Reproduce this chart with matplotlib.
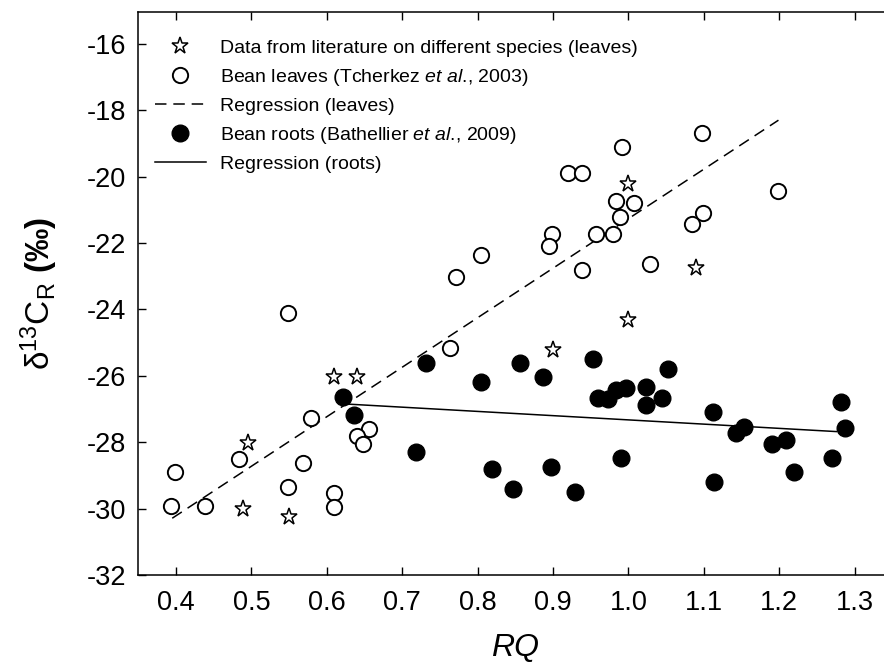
import numpy as np
import matplotlib
matplotlib.use("Agg")
import matplotlib.pyplot as plt

plt.rcParams['font.family'] = ['Liberation Sans', 'DejaVu Sans']
plt.rcParams['mathtext.fontset'] = 'custom'
plt.rcParams['mathtext.rm'] = 'Liberation Sans'
plt.rcParams['mathtext.it'] = 'Liberation Sans:italic'
plt.rcParams['mathtext.bf'] = 'Liberation Sans:bold'
plt.rcParams['axes.unicode_minus'] = False

# === Datos ===
# literatura (hojas, distintas especies)
lit_rq = [0.495, 0.489, 0.550, 0.610, 0.640, 0.900, 1.000, 1.000, 1.090]
lit_d13c = [-28.01, -30.02, -30.24, -26.03, -26.03, -25.22, -24.32, -20.23, -22.76]

# hojas de frijol (Tcherkez et al., 2003)
hojas_rq = [1.098, 0.991, 0.920, 0.938, 0.984, 1.008, 0.989, 0.899, 0.895, 0.957,
            0.979, 1.099, 1.084, 1.198, 0.938, 1.029, 0.805, 0.771, 0.548, 0.763,
            0.579, 0.656, 0.640, 0.648, 0.568, 0.483, 0.399, 0.548, 0.609, 0.609,
            0.393, 0.438]
hojas_d13c = [-18.70, -19.10, -19.88, -19.88, -20.73, -20.80, -21.21, -21.73, -22.08, -21.73,
              -21.73, -21.11, -21.44, -20.43, -22.81, -22.64, -22.36, -23.02, -24.10, -25.17,
              -27.28, -27.60, -27.81, -28.06, -28.64, -28.52, -28.91, -29.36, -29.52, -29.96,
              -29.91, -29.91]

# raices de frijol (Bathellier et al., 2009)
raices_rq = [0.622, 0.636, 0.732, 0.804, 0.856, 0.887, 0.953, 1.052, 0.960, 0.973,
             0.984, 0.997, 1.023, 1.044, 1.024, 1.112, 1.143, 1.153, 1.191, 1.209,
             1.282, 1.287, 1.270, 1.219, 1.113, 0.990, 0.898, 0.929, 0.847, 0.718,
             0.819]
raices_d13c = [-26.63, -27.18, -25.62, -26.20, -25.62, -26.03, -25.49, -25.80, -26.68, -26.70,
               -26.43, -26.38, -26.33, -26.66, -26.88, -27.10, -27.73, -27.55, -28.05, -27.93,
               -26.78, -27.56, -28.47, -28.89, -29.19, -28.47, -28.76, -29.49, -29.42, -28.29,
               -28.82]

# rectas de regresion (extremos)
reg_hojas_x = [0.395, 1.199]
reg_hojas_y = [-30.29, -18.30]
reg_raices_x = [0.626, 1.276]
reg_raices_y = [-26.85, -27.68]

x_ticks = [0.4, 0.5, 0.6, 0.7, 0.8, 0.9, 1.0, 1.1, 1.2, 1.3]
y_ticks = [-32, -30, -28, -26, -24, -22, -20, -18, -16]

guiones = (0, (7.5, 4.5))

# === Grafico ===
fig = plt.figure(figsize=(8.84, 6.67), dpi=100)
ax = fig.add_axes([138.3 / 884, 92 / 667, (892.3 - 138.3) / 884, (575 - 12.3) / 667])

ax.plot(reg_hojas_x, reg_hojas_y, linestyle=guiones, color='black', lw=1.1, zorder=2)
ax.plot(reg_raices_x, reg_raices_y, linestyle='-', color='black', lw=1.1, zorder=2)

ax.plot(lit_rq, lit_d13c, linestyle='none', marker='*', ms=12.5, mfc='white',
        mec='black', mew=1.1, zorder=3)
ax.plot(hojas_rq, hojas_d13c, linestyle='none', marker='o', ms=11, mfc='white',
        mec='black', mew=1.4, zorder=3)
ax.plot(raices_rq, raices_d13c, linestyle='none', marker='o', ms=12, mfc='black',
        mec='black', mew=1, zorder=3)

# leyenda con handles propios para respetar el orden
h1, = ax.plot([], [], linestyle='none', marker='*', ms=12.5, mfc='white', mec='black', mew=1.1)
h2, = ax.plot([], [], linestyle='none', marker='o', ms=11, mfc='white', mec='black', mew=1.4)
h3, = ax.plot([], [], linestyle=guiones, color='black', lw=1.1)
h4, = ax.plot([], [], linestyle='none', marker='o', ms=12, mfc='black', mec='black')
h5, = ax.plot([], [], linestyle='-', color='black', lw=1.1)
etiquetas = ["Data from literature on different species (leaves)",
             r"Bean leaves (Tcherkez $\it{et\ al}$., 2003)",
             "Regression (leaves)",
             r"Bean roots (Bathellier $\it{et\ al}$., 2009)",
             "Regression (roots)"]
ax.legend([h1, h2, h3, h4, h5], etiquetas, loc='upper left',
          bbox_to_anchor=(16.7 / 754, 1 - 27 / 562.7), frameon=False,
          fontsize=14, handlelength=2.6, handletextpad=0.75, labelspacing=0.5,
          borderpad=0, borderaxespad=0, numpoints=1)

ax.set_xlim(0.35, 1.35)
ax.set_ylim(-32, -15.05)
ax.set_xticks(x_ticks)
ax.set_xticklabels([f"{v:.1f}" for v in x_ticks])
ax.set_yticks(y_ticks)
ax.tick_params(axis='both', direction='in', length=5.5, width=1, labelsize=19.5,
               top=True, right=False)
ax.tick_params(axis='x', pad=11)
ax.tick_params(axis='y', pad=9)
for lado in ['left', 'bottom', 'top']:
    ax.spines[lado].set_linewidth(1.1)
ax.spines['right'].set_visible(False)

ax.set_xlabel("RQ", fontsize=23, style='italic', labelpad=12)
ax.set_ylabel("δ$^{13}$C$_\\mathrm{R}$ $\\mathbf{(‰)}$", fontsize=24, labelpad=19)

fig.savefig("out.png", dpi=100)
